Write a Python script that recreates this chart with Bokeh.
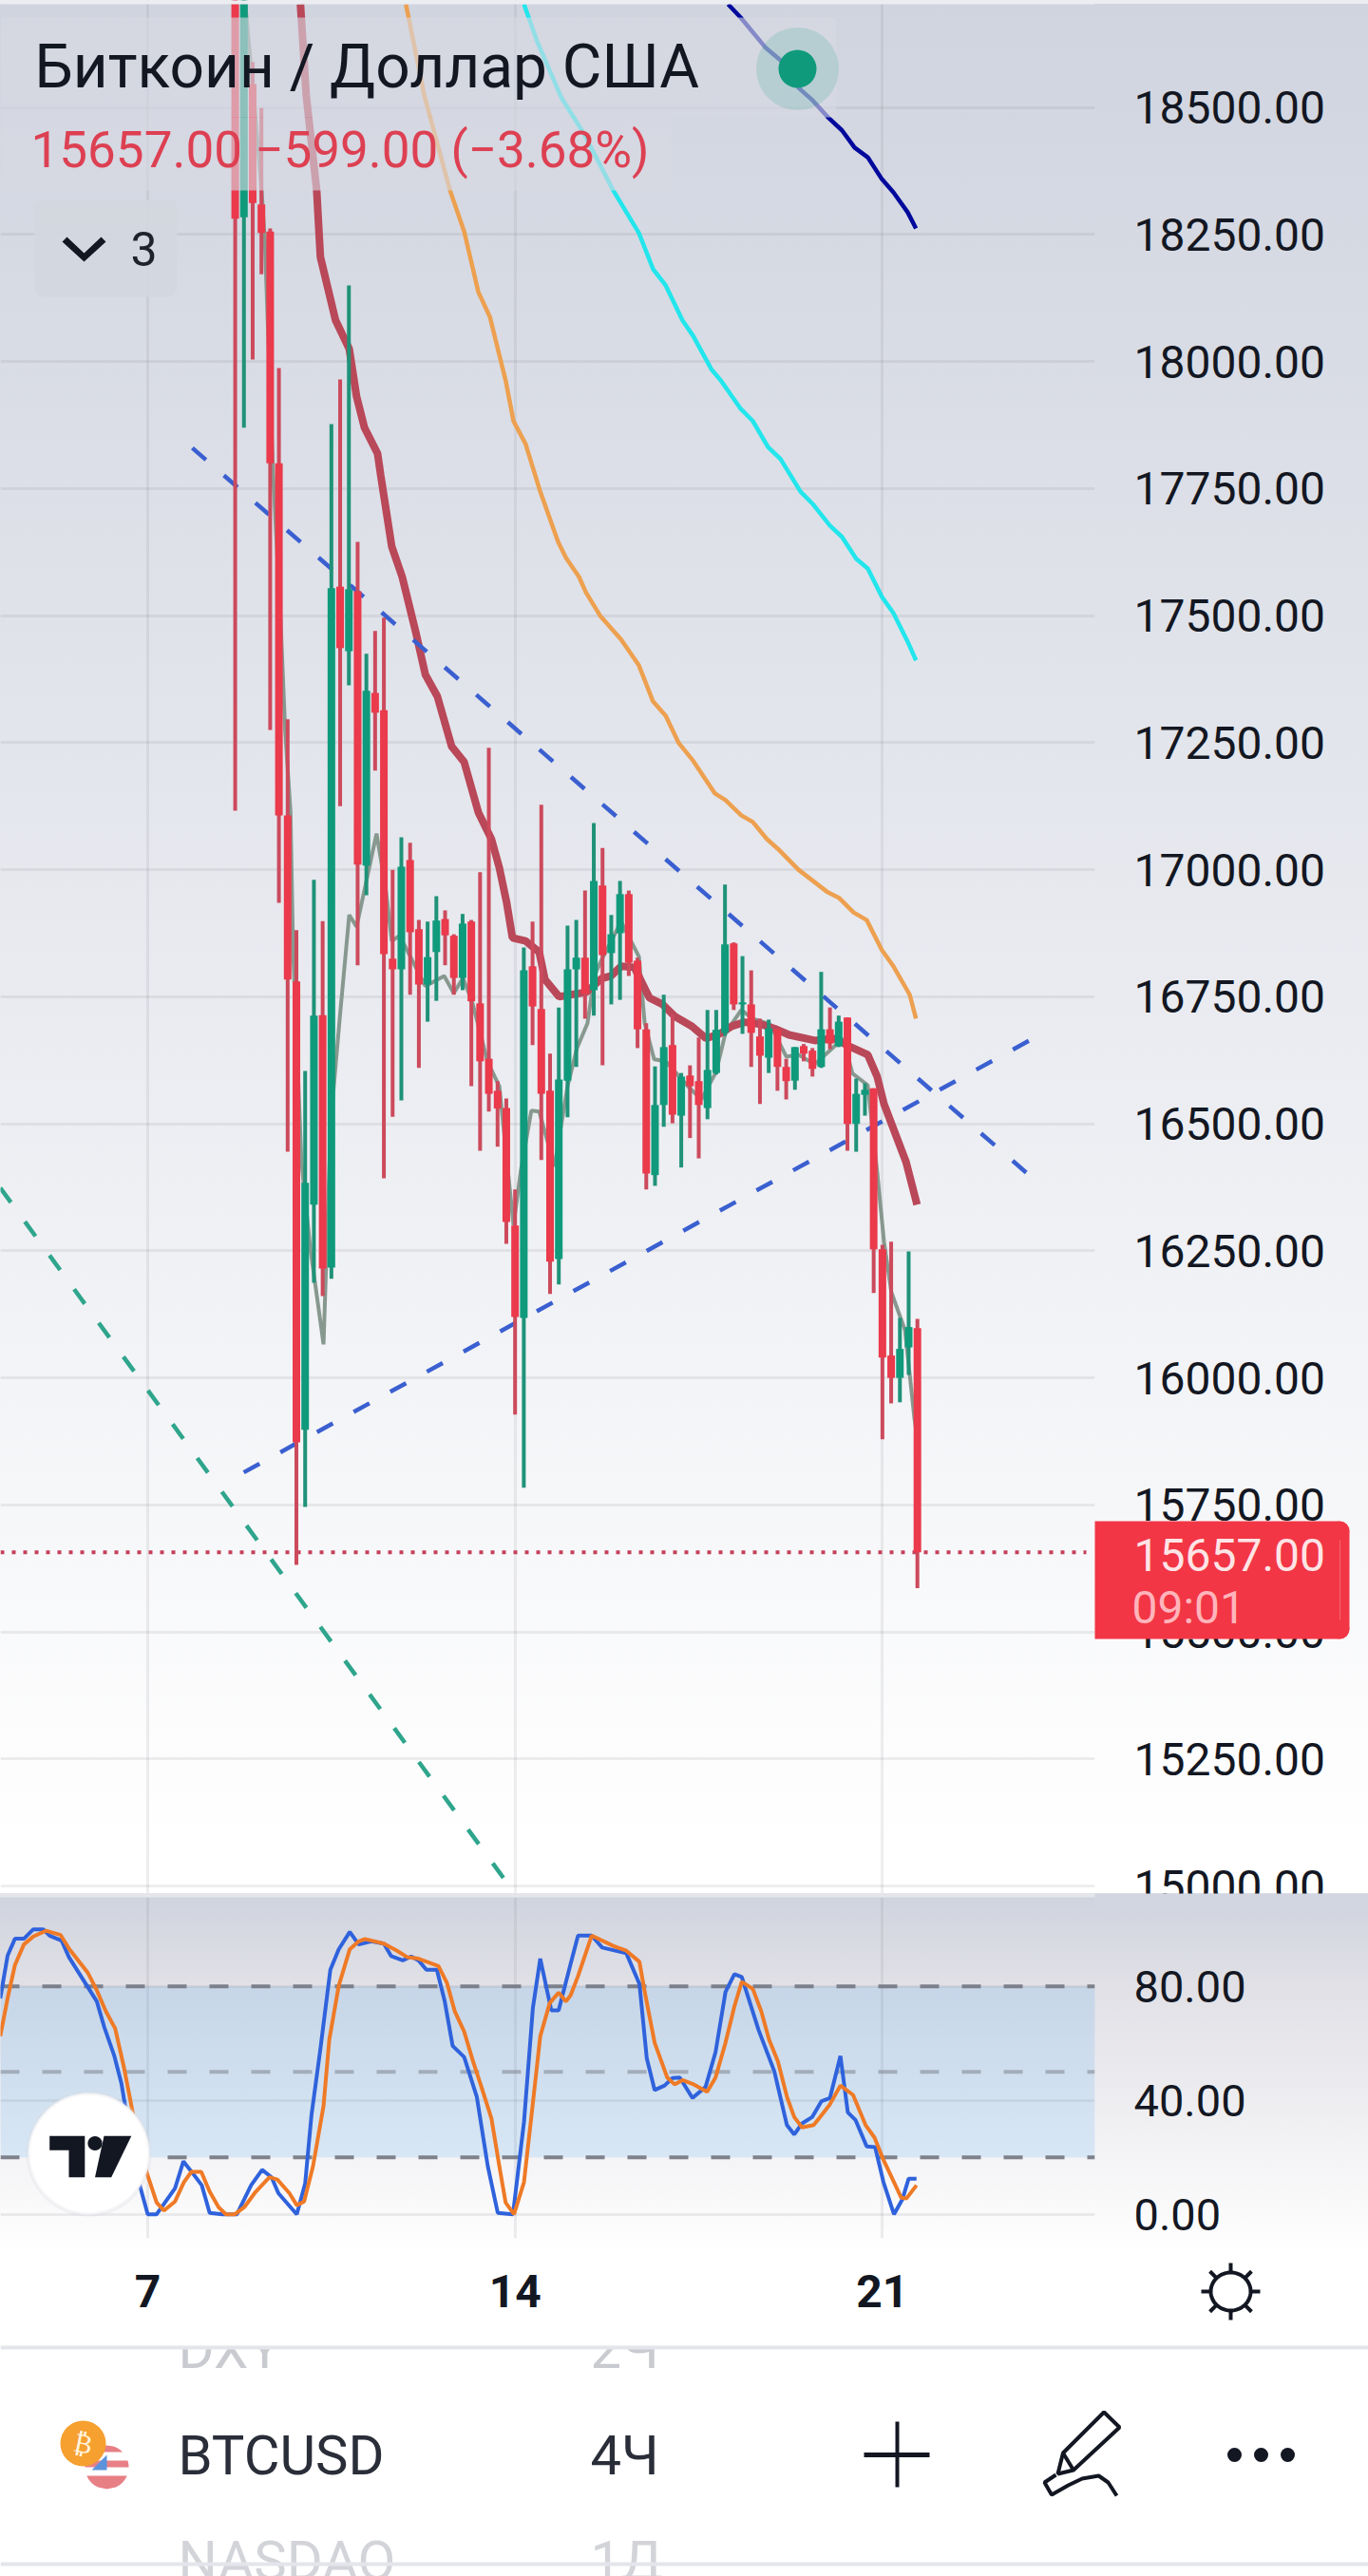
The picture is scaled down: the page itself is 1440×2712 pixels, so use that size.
import numpy as np
from bokeh.embed import file_html
from bokeh.layouts import column
from bokeh.models import (BoxAnnotation, FixedTicker, Grid, Label, PolyAnnotation,
                          PrintfTickFormatter, Range1d, Span)
from bokeh.plotting import figure
from bokeh.resources import INLINE
from bokeh.core.properties import value

# ---------------- DATA ----------------
first_bar = 10  # 4h bars, counted from day 7 (6 bars a day)
bar_open = [18760,18284,18546,18309,18256,17800,17107,16780,15898,16341,16714,16217,17557,17430,17548,17008,17348,17314,16825,16804,
            17019,16883,16774,16838,16903,16870,16787,16898,16737,16628,16565,16531,16300,16118,16810,16726,16565,16234,16585,16804,
            16827,16763,16969,16836,16875,16952,16821,16686,16399,16537,16655,16516,16595,16584,16531,16600,16679,16855,16735,16735,
            16672,16630,16686,16612,16585,16653,16644,16612,16686,16653,16709,16500,16557,16570,16253,16044,16000,16060,16098]
bar_high = [18800,18800,18589,18499,18262,17987,17296,16881,16604,16980,16899,17877,17965,18150,17645,17425,17470,17496,17000,17064,
            17053,16901,16898,16948,16920,16873,16913,16901,16995,17240,16584,16550,16371,16847,16898,17128,16638,16729,16890,16901,
            16959,17092,17043,16911,16978,16959,16827,16698,16613,16754,16716,16600,16615,16670,16724,16724,16971,16857,16830,16802,
            16707,16705,16686,16628,16651,16657,16649,16799,16729,16713,16709,16589,16580,16570,16262,16268,16118,16249,16116]
bar_low = [17116,17870,18004,18172,17275,16935,16445,15632,15746,16187,16161,16195,17125,17363,16812,16950,17195,16393,16514,16546,
           16754,16610,16701,16742,16812,16754,16763,16574,16447,16524,16455,16264,15928,15784,16655,16429,16165,16184,16513,16612,
           16707,16713,16615,16735,16744,16791,16649,16371,16378,16494,16501,16414,16472,16432,16509,16597,16673,16724,16677,16612,
           16539,16600,16565,16548,16567,16623,16593,16610,16647,16651,16447,16445,16516,16167,15879,15950,15952,16006,15586]
bar_close = [18281,18760,18312,18253,17800,17107,16784,15873,16384,16713,16215,17554,17436,17552,17010,17352,17309,16834,16804,17006,
             16877,16774,16828,16900,16871,16787,16894,16741,16623,16559,16530,16307,16120,16802,16731,16559,16229,16587,16804,16827,
             16756,16978,16832,16873,16952,16817,16686,16402,16537,16651,16518,16593,16574,16537,16606,16685,16853,16735,16739,16679,
             16634,16688,16612,16584,16651,16638,16608,16686,16658,16701,16500,16559,16567,16253,16040,16000,16057,16100,15657]
last_price = 15657

ma_slow_x = [9.91,10.02,10.22,10.29,10.58,10.84,10.98,11.13,11.38,11.44,11.65,11.85,12.10,12.29,12.52,12.79,13.03,13.30,13.55,13.70,13.84,13.95,
             14.20,14.46,14.57,14.84,15.06,15.36,15.65,15.83,16.02,16.27,16.38,16.56,16.81,17.05,17.37,17.64,17.90,18.13,18.37,18.68,18.98,
             19.22,19.71,20.07,20.36,20.72,20.90,21.03,21.45,21.66]
ma_slow_y = [18703,18524,18337,18206,18081,18025,17931,17870,17819,17776,17636,17576,17471,17384,17341,17243,17212,17113,17060,17004,16935,16866,
             16860,16838,16784,16750,16754,16759,16786,16791,16810,16808,16786,16748,16735,16711,16692,16668,16677,16692,16700,16696,16686,
             16675,16664,16668,16653,16636,16593,16539,16425,16341]
ma_fast_x = [8.86,9.05,9.17,9.23,9.39,9.53,9.62,9.72,9.77,9.93,10.10,10.35,10.49,10.66,10.84,10.98,11.36,11.53,11.65,11.80,11.94,12.29,12.65,12.83,13.01,13.19,
             13.48,13.70,13.97,14.11,14.31,14.46,14.75,15.00,15.18,15.38,15.51,15.65,16.02,16.36,16.47,16.65,16.87,17.32,17.55,17.83,18.01,18.31,18.53,18.86,
             19.17,19.40,19.71,20.25,20.43,20.72,20.90,21.03,21.17,21.43,21.61,21.68]
ma_fast_y = [18703,18486,18337,18243,17776,17496,17272,17116,16842,16425,16253,16066,16507,16709,16911,16888,17071,16967,16860,16870,16842,16771,16791,16757,16787,16737,
             16621,16574,16300,16408,16526,16524,16416,16574,16649,16698,16791,16823,16898,16829,16698,16627,16623,16571,16548,16602,16679,16724,16707,16696,
             16632,16636,16617,16668,16599,16576,16406,16268,16169,16094,15920,15870]
orange_x = [11.92,12.27,12.76,13.03,13.30,13.52,13.82,13.97,14.20,14.48,14.82,14.97,15.22,15.35,15.62,16.02,16.36,16.63,16.87,17.12,17.39,17.81,18.01,18.31,18.53,18.80,19.00,19.40,19.94,20.18,20.45,20.70,20.99,21.21,21.52,21.64]
orange_y = [18703,18524,18337,18256,18137,18088,17963,17883,17838,17744,17645,17614,17576,17546,17500,17453,17402,17331,17303,17249,17215,17150,17137,17107,17094,17060,17042,17000,16957,16944,16916,16901,16842,16810,16754,16707]
cyan_x = [14.17,14.42,14.89,15.31,15.87,16.36,16.63,16.87,17.19,17.39,17.74,17.92,18.30,18.53,18.82,19.06,19.44,19.67,20.00,20.23,20.50,20.72,20.99,21.21,21.48,21.64]
cyan_y = [18703,18630,18518,18449,18337,18253,18182,18150,18081,18051,17985,17963,17907,17883,17832,17808,17744,17720,17677,17655,17612,17593,17537,17505,17449,17412]
navy_x = [18.06,18.30,18.78,19.06,19.40,19.67,19.96,20.23,20.47,20.72,20.99,21.21,21.48,21.64]
navy_y = [18703,18677,18617,18593,18539,18514,18481,18455,18421,18402,18359,18333,18294,18262]

trend_a_x, trend_a_y = [7.85, 23.74], [17830, 16404]
trend_b_x, trend_b_y = [8.83, 23.80], [15814, 16664]
trend_c_x, trend_c_y = [4.19, 13.99], [16374, 14986]

stoch_k_x = [4.19,4.33,4.47,4.64,4.82,5.01,5.13,5.36,5.50,5.86,6.03,6.17,6.36,6.50,6.62,6.83,7.00,7.17,7.52,7.68,7.87,8.03,8.18,8.43,8.70,8.97,9.18,9.36,9.49,9.84,10.00,10.12,10.29,10.48,10.64,10.85,
             11.02,11.26,11.50,11.64,11.86,12.02,12.16,12.31,12.51,12.66,12.81,13.03,13.27,13.48,13.67,13.96,14.17,14.34,14.48,14.69,14.83,15.06,15.20,15.46,15.66,16.12,16.37,16.51,16.66,16.85,17.00,17.14,
             17.38,17.63,17.82,18.01,18.18,18.32,18.64,18.94,19.18,19.32,19.47,19.66,19.84,20.00,20.20,20.34,20.49,20.70,20.86,21.02,21.22,21.38,21.50,21.65]
stoch_k_y = [75.8,90.8,96.7,96.7,100,100,97.8,96.0,90.2,79.7,74.7,65.8,55.8,45.8,32.4,11.4,0,0,9.1,18.6,14.1,10.2,0.5,0,0,10.2,15.6,13.0,7.4,0,10.8,34.7,58.0,85.8,93.0,99.1,
             94.7,95.8,95.0,90.6,89.1,90.5,89.1,85.8,85.8,74.7,59.1,55.2,41.3,16.9,0.5,0,32.4,72.5,89.7,71.6,71.6,88.0,97.8,97.8,93.6,91.6,80.8,54.7,43.6,45.2,47.8,48.0,
             40.8,44.7,56.9,78.0,84.3,83.3,64.7,50.2,31.3,28.0,31.9,34.1,39.7,40.8,55.6,35.8,33.0,23.8,23.6,11.3,0,5.2,12.5,12.5]
stoch_d_x = [4.19,4.33,4.47,4.64,4.82,5.06,5.34,5.51,5.86,6.03,6.20,6.38,6.55,6.69,6.86,7.00,7.17,7.31,7.52,7.69,7.83,8.02,8.18,8.35,8.49,8.66,8.84,9.04,9.32,9.47,9.70,9.84,9.98,10.15,10.35,10.46,10.64,10.85,
             11.02,11.14,11.50,11.75,11.95,12.16,12.54,12.70,12.85,13.03,13.20,13.34,13.55,13.69,13.82,13.98,14.17,14.34,14.48,14.66,14.83,14.97,15.06,15.20,15.46,15.88,16.12,16.37,16.46,16.66,16.90,17.04,17.19,
             17.38,17.66,17.82,18.01,18.18,18.32,18.53,18.69,18.84,19.01,19.18,19.32,19.47,19.69,19.81,20.00,20.20,20.44,20.68,20.85,21.02,21.22,21.36,21.46,21.65]
stoch_d_y = [62.5,75.8,87.5,94.7,97.5,99.5,98.0,93.0,84.7,78.6,71.3,65.2,51.3,38.0,21.3,13.6,4.1,1.3,4.5,11.3,14.9,14.9,8.0,2.5,0,0,2.5,7.5,13.0,12.2,7.4,3.2,4.5,16.9,38.0,61.3,80.2,93.0,
             95.8,96.6,95.0,92.5,90.2,89.7,87.1,81.3,71.3,64.1,53.6,45.8,33.6,18.0,4.1,0,11.3,39.1,62.5,74.1,77.8,74.7,76.9,83.6,97.8,94.1,92.5,88.6,79.1,60.2,48.0,45.6,47.1,
             45.8,43.0,48.0,60.2,73.0,81.6,79.1,71.3,61.3,53.6,41.3,34.1,30.5,31.3,34.1,38.6,45.2,41.9,31.3,26.9,19.1,11.3,5.8,5.6,10.2]

price_ticks = [15000,15250,15500,15750,16000,16250,16500,16750,17000,17250,17500,17750,18000,18250,18500]
stoch_ticks = [0, 40, 80]
stoch_bands = [80, 50, 20]
day_ticks = [7, 14, 21]
title_text = "Биткоин / Доллар США"
quote_text = "15657.00 −599.00 (−3.68%)"
tag_price, tag_time = "15657.00", "09:01"

# ---------------- STYLE ----------------
FONT = "Roboto"
RED, GREEN = "#ea3a4b", "#109a7c"
RED_W, GREEN_W = "#cc4a5c", "#1f9278"
INK = "#131722"
GRID = dict(grid_line_color="#787b86", grid_line_alpha=0.13, grid_line_width=3)
OSC_TOP, BAR_TOP = 1993, 2470

# page pixel -> data helpers for the two ranges
def X(px): return 7 + (px - 155) / 55.24
def Y(py): return 18710.6 - 1.8692 * py
def OY(py): return (2330.7 - py) / 3.0

def poly(fig, top, pts, **kw):
    # app chrome, in canvas pixels
    kw.setdefault("line_color", None)
    kw.setdefault("fill_alpha", 1.0)
    fig.add_layout(PolyAnnotation(xs=[float(a) for a, _ in pts], ys=[float(b - top) for _, b in pts],
                                  xs_units="canvas", ys_units="canvas", **kw))

def box(fig, top, l, r, t, b, color, alpha=1.0, **kw):
    fig.add_layout(BoxAnnotation(left=l, right=r, top=t - top, bottom=b - top,
                                 left_units="canvas", right_units="canvas", top_units="canvas", bottom_units="canvas",
                                 fill_color=color, fill_alpha=alpha, line_color=None, **kw))

def ring(cx, cy, rx, ry, n=64):
    t = np.linspace(0, 2 * np.pi, n, endpoint=False)
    return list(zip(cx + rx * np.cos(t), cy + ry * np.sin(t)))

def label(fig, top, x, y, text, size, color, **kw):
    fig.add_layout(Label(x=x, y=y - top, text=text, x_units="canvas", y_units="canvas", text_font=FONT,
                         text_font_size=f"{size}px", text_color=color, text_baseline="middle", **kw))

# ---------------- MAIN PRICE PANE ----------------
main = figure(width=1440, height=OSC_TOP, output_backend="svg", toolbar_location=None,
              x_range=Range1d(X(0), X(1152)), y_range=Range1d(Y(OSC_TOP), Y(0)),
              x_axis_location=None, y_axis_location="right",
              min_border_left=0, min_border_right=288, min_border_top=0, min_border_bottom=0)
main.styles = {"background": "linear-gradient(to bottom,#ebedf1 0,#ebedf1 4px,#d0d4df 4px,#ffffff 98%)"}
main.background_fill_color = None
main.border_fill_color = None
main.outline_line_color = None
main.xgrid.grid_line_color = None

ax = main.yaxis[0]
ax.ticker = FixedTicker(ticks=price_ticks[1:])
ax.formatter = PrintfTickFormatter(format="%.2f")
ax.axis_line_color = None
ax.major_tick_line_color = None
ax.minor_tick_line_color = None
ax.major_tick_out = 0
ax.major_label_standoff = 41
ax.major_label_text_font = FONT
ax.major_label_text_font_size = "48px"
ax.major_label_text_color = INK
main.ygrid[0].ticker = FixedTicker(ticks=price_ticks)
for k, v in GRID.items():
    setattr(main.ygrid[0], k, v)
main.add_layout(Grid(dimension=0, ticker=FixedTicker(ticks=day_ticks), **GRID))

main.segment(x0=[X(0)], x1=[X(1143)], y0=[last_price], y1=[last_price], line_color="#c5405a",
             line_width=4, line_dash="4 8")
main.line(ma_fast_x, ma_fast_y, line_color="#87988f", line_width=4)
main.line(orange_x, orange_y, line_color="#eda04f", line_width=4.5)
main.line(cyan_x, cyan_y, line_color="#22e6ec", line_width=4.5)
main.line(navy_x, navy_y, line_color="#00099c", line_width=4.5)
main.line(ma_slow_x, ma_slow_y, line_color="#b94859", line_width=8)
main.line(trend_a_x, trend_a_y, line_color="#3a5fd0", line_width=4.5, line_dash="19 25")
main.line(trend_b_x, trend_b_y, line_color="#3a5fd0", line_width=4.5, line_dash="19 25")
main.line(trend_c_x, trend_c_y, line_color="#2ea58c", line_width=4.5, line_dash="19 25")

days = [7 + (first_bar + i) / 6 for i in range(len(bar_open))]
up = [c >= o for o, c in zip(bar_open, bar_close)]
main.segment(x0=days, x1=days, y0=bar_low, y1=bar_high, line_width=4,
             line_color=[GREEN_W if u else RED_W for u in up])
main.vbar(x=days, width=0.145,
          top=[max(o, c) for o, c in zip(bar_open, bar_close)],
          bottom=[min(o, c) for o, c in zip(bar_open, bar_close)],
          fill_color=[GREEN if u else RED for u in up], line_color=None)

# top strip, legend panels translucent over the chart
box(main, 0, 0, 1152, 0, 4, "#ebedf1")
box(main, 0, 0, 880, 18, 123, "#d6d9e2", 0.62)
box(main, 0, 0, 706, 123, 200, "#d6d9e2", 0.62)
box(main, 0, 36, 186, 210, 312, "#d3d7df", 0.9, border_radius=10)
label(main, 0, 36, 70, title_text, 64, INK)
label(main, 0, 32, 157, quote_text, 53, "#dd4052")
poly(main, 0, [(65, 254), (70, 249), (88, 266), (106, 249), (111, 254), (88, 275)], fill_color=INK)
label(main, 0, 137, 261, "3", 50, "#1e222d")

main.scatter([X(839)], [Y(72)], size=87, fill_color="#089981", fill_alpha=0.15, line_color=None, level="overlay")
main.scatter([X(839)], [Y(72)], size=40, fill_color="#0f9a7c", line_color=None, level="overlay")

# ---------------- STOCHASTIC PANE ----------------
osc = figure(width=1440, height=BAR_TOP - OSC_TOP, output_backend="svg", toolbar_location=None,
             x_range=Range1d(X(0), X(1152)), y_range=Range1d(OY(2356), OY(1997)),
             y_axis_location="right",
             min_border_left=0, min_border_right=288, min_border_top=4, min_border_bottom=114)
osc.styles = {"background": "linear-gradient(to bottom,#e4e6ec 0px,#e4e6ec 4px,#d0d4df 5px,#e0e0e6 20%,#ffffff 80%)"}
osc.background_fill_color = None
osc.border_fill_color = None
osc.outline_line_color = None

ay = osc.yaxis[0]
ay.ticker = FixedTicker(ticks=stoch_ticks)
ay.formatter = PrintfTickFormatter(format="%.2f")
ay.axis_line_color = None
ay.major_tick_line_color = None
ay.minor_tick_line_color = None
ay.major_tick_out = 0
ay.major_label_standoff = 41
ay.major_label_text_font = FONT
ay.major_label_text_font_size = "47px"
ay.major_label_text_color = INK

ab = osc.xaxis[0]
ab.ticker = FixedTicker(ticks=day_ticks)
ab.major_label_overrides = {d: str(d) for d in day_ticks}
ab.axis_line_color = None
ab.major_tick_line_color = None
ab.minor_tick_line_color = None
ab.major_tick_out = 0
ab.major_label_standoff = 38
ab.major_label_text_font = FONT
ab.major_label_text_font_style = "bold"
ab.major_label_text_font_size = "48px"
ab.major_label_text_color = INK

osc.ygrid[0].ticker = FixedTicker(ticks=stoch_ticks)
osc.xgrid[0].ticker = FixedTicker(ticks=day_ticks)
for g in (osc.ygrid[0], osc.xgrid[0]):
    for k, v in GRID.items():
        setattr(g, k, v)

osc.add_layout(BoxAnnotation(bottom=stoch_bands[2], top=stoch_bands[0], fill_color="#2196f3", fill_alpha=0.13,
                             line_color=None, level="underlay"))
for b, a in zip(stoch_bands, (0.95, 0.5, 0.95)):
    osc.add_layout(Span(location=b, dimension="width", line_color="#787b86", line_alpha=a, line_width=4,
                        line_dash="20 24", level="underlay"))

osc.line(stoch_k_x, stoch_k_y, line_color="#2f62dc", line_width=4)
osc.line(stoch_d_x, stoch_d_y, line_color="#ef7a26", line_width=4)

# TradingView badge
poly(osc, OSC_TOP, ring(93, 2267, 64, 64), fill_color="#ffffff", line_color="#d9dbe0", line_width=4)
poly(osc, OSC_TOP, [(51.7, 2248.3), (88.8, 2248.3), (88.8, 2291.7), (72, 2291.7), (72, 2263.3), (51.7, 2263.3)], fill_color=INK)
poly(osc, OSC_TOP, ring(99.5, 2256, 7.6, 7.6, 24), fill_color=INK)
poly(osc, OSC_TOP, [(109, 2248.3), (137.8, 2248.3), (116.7, 2291.7), (99.5, 2291.7)], fill_color=INK)

# ---------------- SYMBOL BAR ----------------
bar = figure(width=1440, height=2712 - BAR_TOP, output_backend="svg", toolbar_location=None,
             x_range=Range1d(0, 1152), y_range=Range1d(2712, BAR_TOP),
             x_axis_location=None, y_axis_location=None,
             min_border_left=0, min_border_right=288, min_border_top=0, min_border_bottom=0)
bar.outline_line_color = None
bar.grid.visible = False
bar.background_fill_color = "#ffffff"
bar.border_fill_color = "#ffffff"

row_x = [187, 621]
def row_text(y, texts, color):
    bar.text(x=row_x, y=[y, y], text=texts, text_font=value(FONT), text_font_size="58px",
             text_color=color, text_baseline="middle")
row_text(2472, ["DXY", "2Ч"], "#c9cbd1")
row_text(2584, ["BTCUSD", "4Ч"], "#2a2e39")
row_text(2695, ["NASDAQ", "1Д"], "#d2d4d9")

# flag + coin
bar.circle(x=[112], y=[2597], radius=23, fill_color="#ffffff", line_color=None)
for y0, y1 in [(2574, 2581), (2590, 2597), (2606, 2620)]:
    ys = np.linspace(y0, y1, 8)
    half = np.sqrt(np.clip(23 ** 2 - (ys - 2597) ** 2, 0, None))
    bar.patch(list(112 - half) + list(112 + half)[::-1], list(ys) + list(ys)[::-1], fill_color="#e77f85", line_color=None)
bar.patch([96, 112, 112], [2600, 2600, 2584], fill_color="#5c93dc", line_color=None)
bar.circle(x=[87], y=[2572], radius=24, fill_color="#f6a02f", line_color=None)
bar.text(x=[87], y=[2572], text=["₿"], text_font=value("DejaVu Sans"), text_font_size="28px", text_color="#fff3df",
         text_align="center", text_baseline="middle", angle=-0.2)

# ---------------- APP CHROME ABOVE THE PANES (price tag, icons, separators) ----------------
top = figure(width=1440, height=2712, output_backend="svg", toolbar_location=None,
             x_range=Range1d(0, 1440), y_range=Range1d(2712, 0),
             x_axis_location=None, y_axis_location=None,
             min_border_left=0, min_border_right=0, min_border_top=0, min_border_bottom=0)
top.styles = {"position": "absolute", "left": "0px", "top": "0px", "pointer-events": "none"}
top.background_fill_color = None
top.border_fill_color = None
top.outline_line_color = None
top.xgrid.grid_line_color = None
top.ygrid.grid_line_color = None

def tx(x, y, text, size, color, **kw):
    top.text(x=[x], y=[y], text=[text], text_font=value(FONT), text_font_size=f"{size}px",
             text_color=color, text_baseline="middle", **kw)

# last price-scale label, cut by the pane below it
tx(1193, 1985, "15000.00", 48, INK)
top.quad(left=[1152], right=[1440], top=[1993], bottom=[2006], fill_color="#d2d6e0", line_color=None)

# price tag
top.quad(left=[1152], right=[1410], top=[1601], bottom=[1725], fill_color="#f23645", line_color=None)
top.scatter([1410, 1410], [1611, 1715], size=20, fill_color="#f23645", line_color=None)
top.quad(left=[1410], right=[1420], top=[1611], bottom=[1715], fill_color="#f23645", line_color=None)
tx(1193, 1636, tag_price, 48, "#ffe4e6")
tx(1191, 1692, tag_time, 48, "#ffb4bb")

# separators
top.quad(left=[0, 0], right=[1440, 1440], top=[2469, 2697], bottom=[2473, 2701], fill_color="#e3e5eb", line_color=None)

# sun icon of the time scale
sx, sy = zip(*ring(1295, 2412, 21, 20))
top.patch(list(sx), list(sy), fill_alpha=0, line_color=INK, line_width=4)
for ang in np.arange(8) * np.pi / 4:
    ca, sa = np.cos(ang), np.sin(ang)
    top.line([1295 + 21 * ca, 1295 + 31 * ca], [2412 + 20 * sa, 2412 + 30 * sa], line_color=INK, line_width=4)

# toolbar icons
top.line([909, 978], [2584, 2584], line_color=INK, line_width=5)
top.line([944, 944], [2549, 2618], line_color=INK, line_width=4)
top.patch([1161.6, 1178, 1129.5, 1113, 1118.5], [2539, 2555, 2600, 2604, 2582], fill_alpha=0, line_color=INK, line_width=4)
top.line([1118.5, 1129.5], [2582, 2600], line_color=INK, line_width=4)
top.line([1111, 1099, 1106.5, 1124, 1138.6, 1156, 1166, 1175], [2605, 2613, 2626, 2616, 2609, 2606, 2613, 2627], line_color=INK, line_width=4)
top.scatter([1299, 1327, 1355], [2584] * 3, size=15, fill_color=INK, line_color=None)

layout = column(main, osc, bar, spacing=0)
open("out.html", "w").write(file_html([layout, top], INLINE))
